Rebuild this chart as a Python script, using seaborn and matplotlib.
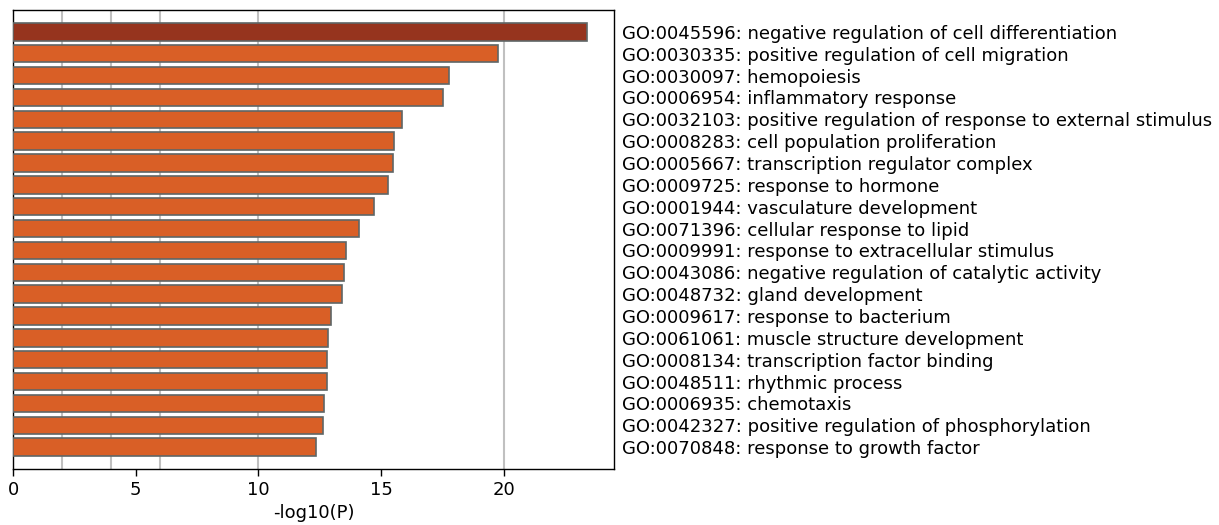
import matplotlib
matplotlib.use("Agg")
import matplotlib.pyplot as plt
import seaborn as sns
import pandas as pd

terms = [
    "GO:0045596: negative regulation of cell differentiation",
    "GO:0030335: positive regulation of cell migration",
    "GO:0030097: hemopoiesis",
    "GO:0006954: inflammatory response",
    "GO:0032103: positive regulation of response to external stimulus",
    "GO:0008283: cell population proliferation",
    "GO:0005667: transcription regulator complex",
    "GO:0009725: response to hormone",
    "GO:0001944: vasculature development",
    "GO:0071396: cellular response to lipid",
    "GO:0009991: response to extracellular stimulus",
    "GO:0043086: negative regulation of catalytic activity",
    "GO:0048732: gland development",
    "GO:0009617: response to bacterium",
    "GO:0061061: muscle structure development",
    "GO:0008134: transcription factor binding",
    "GO:0048511: rhythmic process",
    "GO:0006935: chemotaxis",
    "GO:0042327: positive regulation of phosphorylation",
    "GO:0070848: response to growth factor",
]
neg_log10_p = [23.38, 19.76, 17.78, 17.53, 15.87, 15.55, 15.48, 15.30, 14.73, 14.09,
               13.58, 13.51, 13.40, 12.95, 12.83, 12.79, 12.79, 12.68, 12.65, 12.34]
x_ticks = [0, 5, 10, 15, 20]
grid_lines = [2, 4, 6, 10, 20]

top_color = "#96341e"
bar_color = "#d95f26"
colors = [top_color] + [bar_color] * (len(terms) - 1)

df = pd.DataFrame({"term": terms, "value": neg_log10_p})

sns.set_style("white")
plt.rcParams['font.family'] = ['DejaVu Sans']
plt.rcParams['text.color'] = 'black'
plt.rcParams['axes.labelcolor'] = 'black'
plt.rcParams['xtick.color'] = 'black'
plt.rcParams['ytick.color'] = 'black'

fig = plt.figure(figsize=(12.19, 5.25), dpi=100)
ax = fig.add_axes([0.0107, 0.1067, 0.4930, 0.8743])

sns.barplot(data=df, x="value", y="term", hue="term", palette=colors, legend=False,
            orient="h", width=0.8, saturation=1, edgecolor="#5f6666", linewidth=1.2,
            ax=ax, zorder=3)

ax.set_xlim(0, 24.5)
ax.set_ylim(20, -1)
ax.xaxis.remove_overlapping_locs = False
ax.set_xticks(x_ticks)
ax.set_xticks(grid_lines, minor=True)
ax.grid(False)
ax.grid(which="minor", axis="x", color="#c0c0c0", linewidth=1.5, zorder=0)
ax.set_axisbelow(True)
ax.tick_params(axis="x", which="major", length=5, width=1, labelsize=13,
               color="black", labelcolor="black", bottom=True)
ax.tick_params(axis="x", which="minor", length=0)
ax.yaxis.tick_right()
ax.tick_params(axis="y", length=0, labelsize=13, pad=6, labelcolor="black")
ax.set_ylabel("")
ax.set_xlabel("-log10(P)", fontsize=13, labelpad=4, color="black")
for s in ax.spines.values():
    s.set_visible(True)
    s.set_color("black")
    s.set_linewidth(1.0)

fig.savefig("out.png", dpi=100)
